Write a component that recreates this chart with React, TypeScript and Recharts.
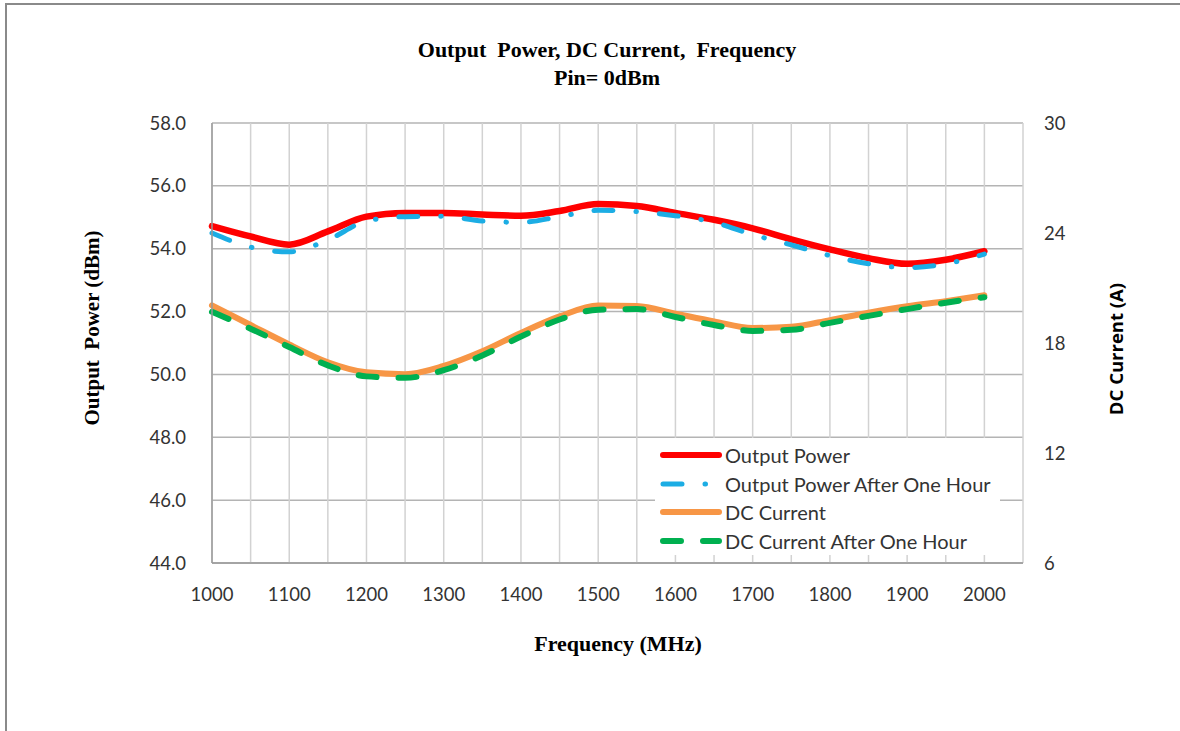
import React from 'react';
import { ComposedChart, Line, XAxis, YAxis, CartesianGrid, Legend } from 'recharts';

const frequencies = [1000, 1050, 1100, 1150, 1200, 1250, 1300, 1350, 1400, 1450, 1500, 1550, 1600, 1650, 1700, 1750, 1800, 1850, 1900, 1950, 2000];
const outputPower = [54.72, 54.39, 54.13, 54.55, 55.02, 55.14, 55.14, 55.09, 55.05, 55.2, 55.42, 55.36, 55.14, 54.92, 54.65, 54.3, 53.98, 53.7, 53.52, 53.65, 53.92];
const outputPowerAfterHour = [54.5, 54.05, 53.9, 54.28, 54.88, 55.02, 55.03, 54.88, 54.84, 55.02, 55.22, 55.18, 55.05, 54.84, 54.45, 54.12, 53.78, 53.52, 53.4, 53.52, 53.83];
const dcCurrent = [20.05, 18.98, 17.92, 16.95, 16.4, 16.3, 16.75, 17.55, 18.55, 19.45, 20.05, 20.02, 19.6, 19.18, 18.82, 18.88, 19.25, 19.65, 20.0, 20.28, 20.6];
const dcCurrentAfterHour = [19.7, 18.78, 17.78, 16.78, 16.18, 16.1, 16.52, 17.32, 18.35, 19.28, 19.82, 19.85, 19.42, 18.98, 18.66, 18.72, 19.1, 19.48, 19.85, 20.2, 20.5];

const xTicks = [1000, 1050, 1100, 1150, 1200, 1250, 1300, 1350, 1400, 1450, 1500, 1550, 1600, 1650, 1700, 1750, 1800, 1850, 1900, 1950, 2000, 2050];
const leftTicks = [44, 46, 48, 50, 52, 54, 56, 58];
const rightTicks = [6, 12, 18, 24, 30];

const data = frequencies.map((f, i) => ({
  freq: f,
  op: outputPower[i],
  opHour: outputPowerAfterHour[i],
  dc: dcCurrent[i],
  dcHour: dcCurrentAfterHour[i],
}));

const TICK_FONT = 'Lato, "Open Sans", sans-serif';
const SERIF = '"Liberation Serif", "DejaVu Serif", serif';

const legendItems = [
  { name: 'Output Power', color: '#FF0000', width: 6, dash: undefined as string | undefined },
  { name: 'Output Power After One Hour', color: '#1CADE4', width: 5, dash: '19 23 0.5 23' },
  { name: 'DC Current', color: '#F79646', width: 6, dash: undefined },
  { name: 'DC Current After One Hour', color: '#00B050', width: 6, dash: '18 22' },
];

const LegendContent = () => (
  <div style={{ background: '#fff', width: 345, height: 117, paddingTop: 3, boxSizing: 'border-box' }}>
    {legendItems.map((it) => (
      <div key={it.name} style={{ display: 'flex', alignItems: 'center', height: 28.5 }}>
        <svg width={70} height={12} style={{ display: 'block' }}>
          <line x1={8} y1={6} x2={64} y2={6} stroke={it.color} strokeWidth={it.width}
            strokeDasharray={it.dash} strokeLinecap="round" />
        </svg>
        <span style={{ fontFamily: TICK_FONT, fontSize: 20, color: '#333', whiteSpace: 'nowrap' }}>{it.name}</span>
      </div>
    ))}
  </div>
);

export default function App() {
  return (
    <div style={{ position: 'absolute', left: 0, top: 0, width: 1180, height: 731, background: '#fff' }}>
      <div style={{ position: 'absolute', left: 5, top: 3, width: 1175, height: 2, background: '#8a8a8a' }} />
      <div style={{ position: 'absolute', left: 5, top: 3, width: 2, height: 728, background: '#8a8a8a' }} />
      <ComposedChart width={1180} height={731} data={data}
        margin={{ top: 123, right: 0, bottom: 0, left: 0 }}>
        <CartesianGrid yAxisId="left" vertical={false} stroke="#b4b4b4" strokeWidth={1.5} />
        <CartesianGrid yAxisId="left" horizontal={false} stroke="#d2d2d2" strokeWidth={1.5} />
        <XAxis dataKey="freq" type="number" domain={[1000, 2050]} ticks={xTicks} interval={0}
          tickFormatter={(v: number) => (v % 100 === 0 ? String(v) : '')}
          height={168} tickLine={false} tickSize={0} tickMargin={25}
          axisLine={{ stroke: '#999', strokeWidth: 1.5 }}
          tick={{ fill: '#333', fontSize: 18.5, fontFamily: TICK_FONT }} />
        <YAxis yAxisId="left" orientation="left" domain={[44, 58]} ticks={leftTicks} interval={0}
          width={212} tickLine={false} tickSize={0} tickMargin={26}
          tickFormatter={(v: number) => v.toFixed(1)}
          axisLine={{ stroke: '#999', strokeWidth: 1.5 }}
          tick={{ fill: '#333', fontSize: 18.5, fontFamily: TICK_FONT }} />
        <YAxis yAxisId="right" orientation="right" domain={[6, 30]} ticks={rightTicks} interval={0}
          width={157} tickLine={false} tickSize={0} tickMargin={21} axisLine={false}
          tick={{ fill: '#333', fontSize: 18.5, fontFamily: TICK_FONT, textAnchor: 'start' }} />
        <Line yAxisId="left" type="monotone" dataKey="op" stroke="#FF0000" strokeWidth={6.5}
          dot={false} isAnimationActive={false} strokeLinecap="round" />
        <Line yAxisId="left" type="monotone" dataKey="opHour" stroke="#1CADE4" strokeWidth={5}
          strokeDasharray="19 23 0.5 23" strokeLinecap="round" dot={false} isAnimationActive={false} />
        <Line yAxisId="right" type="monotone" dataKey="dc" stroke="#F79646" strokeWidth={6}
          dot={false} isAnimationActive={false} strokeLinecap="round" />
        <Line yAxisId="right" type="monotone" dataKey="dcHour" stroke="#00B050" strokeWidth={6}
          strokeDasharray="18 22" strokeLinecap="round" dot={false} isAnimationActive={false} />
        <Legend layout="vertical" align="center" verticalAlign="middle" content={<LegendContent />}
          wrapperStyle={{ position: 'absolute', left: 655, top: 438, width: 345, height: 117 }} />
      </ComposedChart>
      <div style={{ position: 'absolute', left: 307, top: 38, width: 600, textAlign: 'center', fontFamily: SERIF, fontWeight: 'bold', fontSize: 22, lineHeight: '24px', color: '#000', whiteSpace: 'pre' }}>
        {'Output  Power, DC Current,  Frequency'}
      </div>
      <div style={{ position: 'absolute', left: 307, top: 66, width: 600, textAlign: 'center', fontFamily: SERIF, fontWeight: 'bold', fontSize: 22, lineHeight: '24px', color: '#000' }}>
        Pin= 0dBm
      </div>
      <div style={{ position: 'absolute', left: 418, top: 632, width: 400, textAlign: 'center', fontFamily: SERIF, fontWeight: 'bold', fontSize: 22, lineHeight: '24px', color: '#000' }}>
        Frequency (MHz)
      </div>
      <div style={{ position: 'absolute', left: 92 - 150, top: 328 - 12, width: 300, textAlign: 'center', fontFamily: SERIF, fontWeight: 'bold', fontSize: 21, lineHeight: '24px', color: '#000', transform: 'rotate(-90deg)', whiteSpace: 'pre' }}>
        {'Output  Power (dBm)'}
      </div>
      <div style={{ position: 'absolute', left: 1116 - 150, top: 349 - 12, width: 300, textAlign: 'center', fontFamily: '"Open Sans", Lato, sans-serif', fontWeight: 'bold', fontSize: 18.5, lineHeight: '24px', color: '#000', transform: 'rotate(-90deg)' }}>
        DC Current (A)
      </div>
    </div>
  );
}
